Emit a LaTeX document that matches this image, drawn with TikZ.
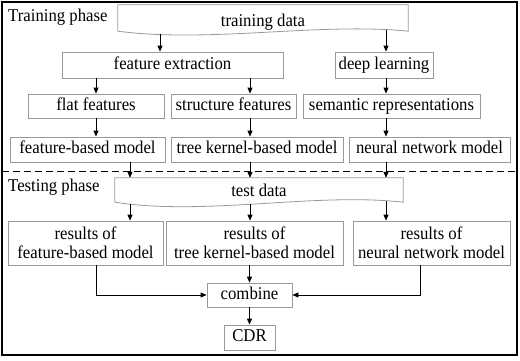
\documentclass[tikz,border=0pt]{standalone}
\usepackage{fontspec}
\setmainfont{Liberation Serif}[FakeStretch=0.93]
\usetikzlibrary{arrows.meta}
\definecolor{boxgray}{gray}{0.6}

\begin{document}
\begin{tikzpicture}[
  x=1pt, y=-1pt,
  every node/.style={font=\fontsize{18}{19}\selectfont, inner sep=0pt},
  box/.style={draw=boxgray, line width=0.8pt, text height=12.3pt, text depth=3.9pt},
  resbox/.style={draw=boxgray, line width=0.8pt, align=center, minimum height=44pt},
  docbox/.style={text depth=3.9pt},
  phase/.style={anchor=west, text height=12.3pt, text depth=3.9pt},
  arr/.style={-{Triangle[length=6pt,width=5pt]}, line width=0.8pt},
]
\useasboundingbox (0,0) rectangle (520,360);
\draw[line width=1.2pt] (2,2) rectangle (517,355);
% columns of the arrows
\coordinate (colA) at (96,0);
\coordinate (colB) at (250,0);
\coordinate (colC) at (386,0);
\coordinate (colD) at (130,0);
\coordinate (colE) at (420,0);

% Training phase
\node[phase] (trainlbl) at (8,17) {Training phase};
\node[docbox, minimum width=290pt, minimum height=26pt, text height=19.9pt] (train) at (263,18) {training data};
\draw[boxgray, line width=0.8pt] (train.south west) -- (train.north west) -- (train.north east) -- (train.south east)
  .. controls +(-88,-9) and +(92,12) .. (train.south west);
\coordinate (trainL) at (160,34);
\coordinate (trainR) at (386,30);

\node[box, minimum width=221pt, minimum height=26pt] (fext) at (172.5,65) {feature extraction};
\node[box, minimum width=98pt, minimum height=26pt] (deep) at (384,65) {deep learning};

\node[box, minimum width=136pt, minimum height=24pt] (flat) at (96,106) {flat features};
\node[box, minimum width=125pt, minimum height=24pt] (struct) at (233.5,106) {structure features};
\node[box, minimum width=177pt, minimum height=24pt] (sem) at (391.5,106) {semantic representations};

\node[box, minimum width=155pt, minimum height=25pt] (fbm) at (87.5,149.5) {feature-based model};
\node[box, minimum width=172pt, minimum height=25pt] (tkm) at (257,149.5) {tree kernel-based model};
\node[box, minimum width=161pt, minimum height=25pt] (nnm) at (429.5,149.5) {neural network model};

\draw[arr] (trainL) -- (trainL |- fext.north);
\draw[arr] (trainR) -- (trainR |- deep.north);
\draw[arr] (colA |- fext.south) -- (colA |- flat.north);
\draw[arr] (colB |- fext.south) -- (colB |- struct.north);
\draw[arr] (colC |- deep.south) -- (colC |- sem.north);
\draw[arr] (colA |- flat.south) -- (colA |- fbm.north);
\draw[arr] (colB |- struct.south) -- (colB |- tkm.north);
\draw[arr] (colC |- sem.south) -- (colC |- nnm.north);

\draw[line width=0.8pt, dash pattern=on 7pt off 4pt] (2,171) -- (517,171);

% Testing phase
\node[phase] (testlbl) at (8,187) {Testing phase};
\node[docbox, minimum width=288pt, minimum height=24pt, text height=15.9pt] (test) at (259,190) {test data};
\draw[boxgray, line width=0.8pt] (test.south west) -- (test.north west) -- (test.north east) -- (test.south east)
  .. controls +(-88,-10) and +(90,14) .. (test.south west);
\coordinate (testL) at (130,204);
\coordinate (testM) at (250,204);
\coordinate (testR) at (386,201);

\draw[arr] (colD |- fbm.south) -- (colD |- test.north);
\draw[arr] (colB |- tkm.south) -- (colB |- test.north);
\draw[arr] (colC |- nnm.south) -- (colC |- test.north);

\node[resbox, minimum width=155pt] (rfbm) at (85.5,243) {results of\\feature-based model};
\node[resbox, minimum width=177pt] (rtkm) at (254.5,243) {results of\\tree kernel-based model};
\node[resbox, minimum width=157pt] (rnnm) at (431.5,243) {results of\\neural network model};

\node[box, minimum width=85pt, minimum height=24pt] (comb) at (249.5,295) {combine};
\node[box, minimum width=51pt, minimum height=25pt] (cdr) at (249.5,337.5) {CDR};

\draw[arr] (testL) -- (testL |- rfbm.north);
\draw[arr] (testM) -- (testM |- rtkm.north);
\draw[arr] (testR) -- (testR |- rnnm.north);
\draw[arr] (colA |- rfbm.south) |- (comb.west);
\draw[arr] (comb.north |- rtkm.south) -- (comb.north);
\draw[arr] (colE |- rnnm.south) |- (comb.east);
\draw[arr] (comb) -- (cdr);
\end{tikzpicture}
\end{document}
